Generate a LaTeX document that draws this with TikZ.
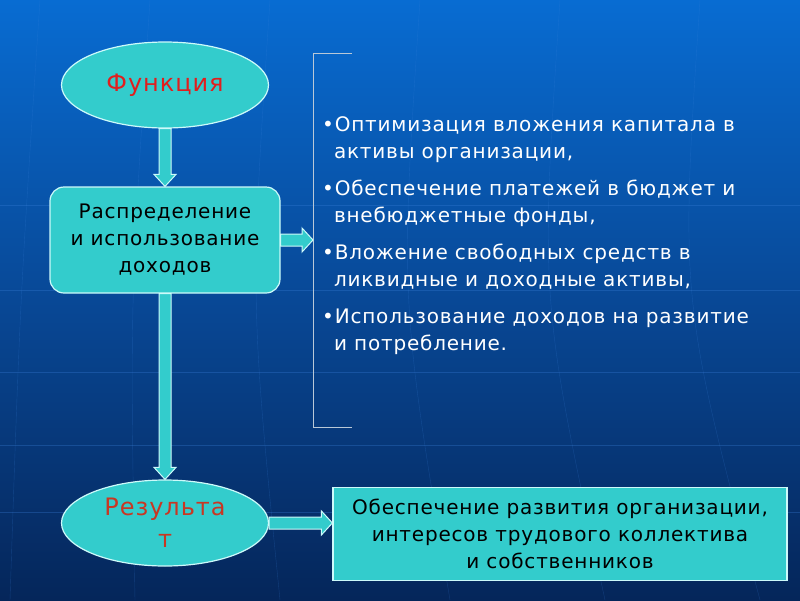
\documentclass[tikz,border=0pt]{standalone}
\usepackage{fontspec}
\setmainfont{DejaVu Sans}[LetterSpace=4]
\usetikzlibrary{calc,shapes.geometric}
\definecolor{turq}{RGB}{51,204,204}
\definecolor{rim}{RGB}{205,250,250}
\definecolor{funcred}{RGB}{225,30,30}
\definecolor{resred}{RGB}{200,55,35}
\definecolor{bgtop}{RGB}{8,108,210}
\definecolor{bgmid}{RGB}{8,72,150}
\definecolor{bgbot}{RGB}{5,38,90}
\definecolor{gridline}{RGB}{60,130,220}
\definecolor{bracketgray}{RGB}{185,200,215}

% block arrows (shaft 6, head 12)
\newcommand\vblockarrow[2]{%
  \draw[barrow] ($(#1)+(-6,0)$) -- ($(#2)+(-6,-12)$) -- ($(#2)+(-11,-12)$) -- (#2)
    -- ($(#2)+(11,-12)$) -- ($(#2)+(6,-12)$) -- ($(#1)+(6,0)$) -- cycle;}
\newcommand\hblockarrow[2]{%
  \draw[barrow] ($(#1)+(0,-6)$) -- ($(#2)+(-11,-6)$) -- ($(#2)+(-11,-12)$) -- (#2)
    -- ($(#2)+(-11,12)$) -- ($(#2)+(-11,6)$) -- ($(#1)+(0,6)$) -- cycle;}

\begin{document}
\begin{tikzpicture}[x=1pt,y=-1pt,
    oval/.style={ellipse, draw=rim, line width=1.2pt, fill=turq, minimum width=207pt, minimum height=86pt, inner sep=0pt, align=center, font=\fontsize{24}{32}\selectfont},
    box/.style={draw=rim, line width=1.2pt, fill=turq, inner sep=0pt, align=center, font=\fontsize{20}{27}\selectfont},
    barrow/.style={draw=rim, line width=1pt, fill=turq, line join=miter},
    bracket/.style={draw=bracketgray, line width=1pt}
  ]
  \shade[top color=bgtop, bottom color=bgbot, middle color=bgmid] (0,0) rectangle (800,600);
  \useasboundingbox (0,0) rectangle (800,600);
  % globe lines
  \foreach \yy in {205,290,372,445,512}
    \draw[gridline, opacity=0.3] (0,\yy) -- (800,\yy);
  \foreach \xx/\dx in {40/-30,150/-15,270/10,420/30,560/45,700/60}
    \draw[gridline, opacity=0.25] (\xx,0) .. controls (\xx-20,300) .. (\xx+\dx,600);

  \node[oval, text=funcred] (func) at (165,85) {Функция};
  \node[box, rounded corners=14pt, minimum width=230pt, minimum height=106pt] (dist) at (165,240) {Распределение\\и использование\\доходов};
  \node[oval, text=resred] (res) at (165,523) {Результа\\т};
  \node[box, minimum width=454pt, minimum height=93pt] (goal) at (560,534) {Обеспечение развития организации,\\интересов трудового коллектива\\и собственников};

  \coordinate (brtop) at (313,53);
  \coordinate (brbot) at (313,427);
  \draw[bracket] ($(brtop)+(39,0)$) -- (brtop) -- (brbot) -- ($(brbot)+(39,0)$);
  \node[anchor=north west, text=white, align=left, inner sep=0pt, font=\fontsize{20}{27}\selectfont] (list) at (322,116)
    {•Оптимизация вложения капитала в\\\phantom{•}активы организации,\\[10pt]
     •Обеспечение платежей в бюджет и\\\phantom{•}внебюджетные фонды,\\[10pt]
     •Вложение свободных средств в\\\phantom{•}ликвидные и доходные активы,\\[10pt]
     •Использование доходов на развитие\\\phantom{•}и потребление.};

  \vblockarrow{func.south}{dist.north}
  \vblockarrow{dist.south}{res.north}
  \hblockarrow{dist.east}{dist.east -| brtop}
  \hblockarrow{res.east}{res.east -| goal.west}
\end{tikzpicture}
\end{document}
